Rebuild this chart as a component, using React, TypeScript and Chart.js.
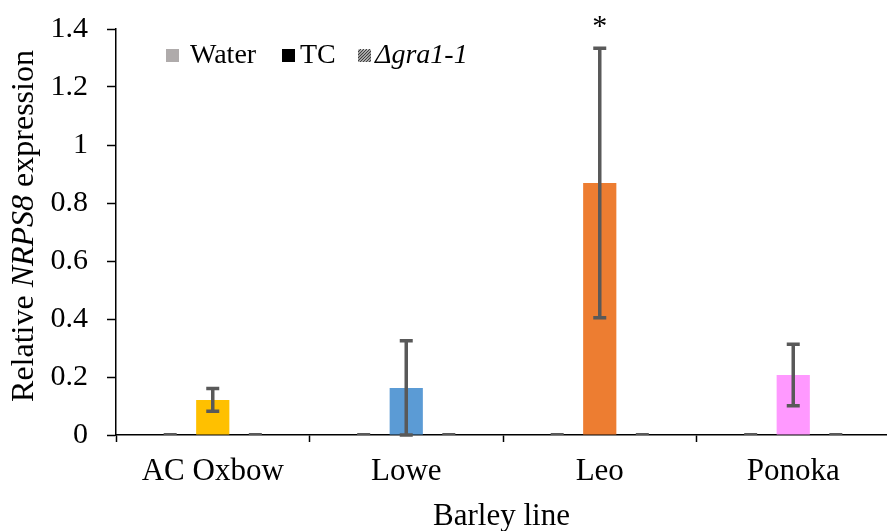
import React, { useEffect, useRef } from "react";
import { Chart, registerables } from "chart.js";

Chart.register(...registerables);

const categories = ["AC Oxbow", "Lowe", "Leo", "Ponoka"];
const seriesNames = ["Water", "TC", "Δgra1-1"];
const waterValues = [0, 0, 0, 0];
const tcValues = [0.121, 0.162, 0.869, 0.207];
const gra1Values = [0, 0, 0, 0];
const waterErrors = [0, 0, 0, 0];
const tcErrors = [0.039, 0.163, 0.465, 0.106];
const gra1Errors = [0, 0, 0, 0];
const tcColors = ["#FFC000", "#5B9BD5", "#ED7D31", "#FF99FF"];
const significance = ["", "", "*", ""];
const yMin = 0;
const yMax = 1.4;
const yStep = 0.2;

const FONT = "'Liberation Serif', 'Times New Roman', serif";

const errorsBySeries = [waterErrors, tcErrors, gra1Errors];

const overlayPlugin = {
  id: "overlay",
  afterDatasetsDraw(chart: any) {
    const ctx = chart.ctx;
    const y = chart.scales.y;
    ctx.save();
    ctx.strokeStyle = "#595959";
    chart.data.datasets.forEach((ds: any, d: number) => {
      const meta = chart.getDatasetMeta(d);
      const errs = errorsBySeries[d];
      meta.data.forEach((el: any, i: number) => {
        const v = ds.data[i];
        const e = errs[i];
        const x = el.x;
        const cap = 6.5;
        if (e > 0) {
          ctx.lineWidth = 3.5;
          const yt = y.getPixelForValue(v + e);
          const yb = y.getPixelForValue(Math.max(v - e, 0));
          ctx.beginPath();
          ctx.moveTo(x, yt);
          ctx.lineTo(x, yb);
          ctx.moveTo(x - cap, yt);
          ctx.lineTo(x + cap, yt);
          ctx.moveTo(x - cap, yb);
          ctx.lineTo(x + cap, yb);
          ctx.stroke();
        } else {
          ctx.lineWidth = 2;
          const yv = y.getPixelForValue(v) - 1;
          ctx.beginPath();
          ctx.moveTo(x - cap, yv);
          ctx.lineTo(x + cap, yv);
          ctx.stroke();
        }
      });
    });
    ctx.restore();
  },
  afterDraw(chart: any) {
    const ctx = chart.ctx;
    const area = chart.chartArea;
    ctx.save();
    ctx.fillStyle = "#000";

    // significance marks
    const tcMeta = chart.getDatasetMeta(1);
    ctx.font = `30px ${FONT}`;
    ctx.textAlign = "center";
    ctx.textBaseline = "alphabetic";
    significance.forEach((s, i) => {
      if (!s) return;
      const el = tcMeta.data[i];
      const m = ctx.measureText(s);
      const h = m.actualBoundingBoxAscent + m.actualBoundingBoxDescent;
      const base = 21.5 + h / 2 - m.actualBoundingBoxDescent;
      ctx.fillText(s, el.x, base);
    });

    // x title
    ctx.font = `31px ${FONT}`;
    ctx.textAlign = "center";
    ctx.fillText("Barley line", (area.left + 887) / 2, 525);

    // y title with italic gene name
    const parts = [
      { t: "Relative ", f: `32px ${FONT}` },
      { t: "NRPS8", f: `italic 32px ${FONT}` },
      { t: " expression", f: `32px ${FONT}` },
    ];
    let total = 0;
    parts.forEach((p) => {
      ctx.font = p.f;
      total += ctx.measureText(p.t).width;
    });
    ctx.translate(25, 226);
    ctx.rotate(-Math.PI / 2);
    ctx.textAlign = "left";
    ctx.textBaseline = "middle";
    let cx = -total / 2;
    parts.forEach((p) => {
      ctx.font = p.f;
      ctx.fillText(p.t, cx, 0);
      cx += ctx.measureText(p.t).width;
    });
    ctx.setTransform(1, 0, 0, 1, 0, 0);

    // legend
    const sq = 14;
    const sqTop = 49;
    const items = [
      { x: 166, tx: 190, name: seriesNames[0], kind: "fill", color: "#AFABAB", italic: false },
      { x: 282, tx: 300, name: seriesNames[1], kind: "fill", color: "#000000", italic: false },
      { x: 358, tx: 375, name: seriesNames[2], kind: "hatch", color: "#404040", italic: true },
    ];
    items.forEach((it) => {
      if (it.kind === "fill") {
        ctx.fillStyle = it.color;
        ctx.fillRect(it.x, sqTop, sq - 1, sq - 1);
      } else {
        ctx.save();
        ctx.beginPath();
        ctx.rect(it.x, sqTop, sq - 1, sq - 1);
        ctx.clip();
        ctx.strokeStyle = it.color;
        ctx.lineWidth = 1.3;
        for (let k = -sq; k < sq * 2; k += 3) {
          ctx.beginPath();
          ctx.moveTo(it.x + k, sqTop + sq);
          ctx.lineTo(it.x + k + sq, sqTop);
          ctx.stroke();
        }
        ctx.restore();
      }
      ctx.fillStyle = "#000";
      ctx.font = `${it.italic ? "italic " : ""}28px ${FONT}`;
      ctx.textAlign = "left";
      ctx.textBaseline = "alphabetic";
      ctx.fillText(it.name, it.tx, 63);
    });
    ctx.restore();
  },
};

export default function App() {
  const ref = useRef<HTMLCanvasElement | null>(null);
  useEffect(() => {
    if (!ref.current) return;
    const chart = new Chart(ref.current, {
      type: "bar",
      data: {
        labels: categories,
        datasets: [
          { label: seriesNames[0], data: waterValues, backgroundColor: "#AFABAB" },
          { label: seriesNames[1], data: tcValues, backgroundColor: tcColors },
          { label: seriesNames[2], data: gra1Values, backgroundColor: "#404040" },
        ],
      },
      options: {
        responsive: false,
        animation: false,
        devicePixelRatio: 1,
        layout: { padding: { top: 29, left: 0, right: 0, bottom: 0 } },
        datasets: { bar: { barPercentage: 0.78, categoryPercentage: 0.66 } },
        plugins: { legend: { display: false }, tooltip: { enabled: false }, title: { display: false } },
        scales: {
          x: {
            afterFit: (s: any) => {
              s.height = 96;
              s.paddingLeft = 0;
              s.paddingRight = 0;
            },
            grid: {
              offset: true,
              drawOnChartArea: false,
              drawTicks: true,
              tickLength: 7,
              tickColor: "#000",
              tickWidth: 1.5,
            },
            border: { display: true, color: "#000", width: 1.5 },
            ticks: {
              color: "#000",
              font: { family: FONT, size: 31 },
              padding: 11,
              maxRotation: 0,
              autoSkip: false,
            },
          },
          y: {
            min: yMin,
            max: yMax,
            afterFit: (s: any) => {
              s.width = 116;
              s.paddingTop = 0;
              s.paddingBottom = 0;
            },
            grid: {
              drawOnChartArea: false,
              drawTicks: true,
              tickLength: 9,
              tickColor: "#000",
              tickWidth: 1.5,
            },
            border: { display: true, color: "#000", width: 1.5 },
            ticks: {
              stepSize: yStep,
              color: "#000",
              font: { family: FONT, size: 30 },
              padding: 19,
              callback: (v: any) => String(Math.round(Number(v) * 10) / 10),
            },
          },
        },
      },
      plugins: [overlayPlugin],
    } as any);
    return () => chart.destroy();
  }, []);
  return (
    <div style={{ position: "absolute", left: 0, top: 0, width: 887, height: 531, overflow: "hidden", background: "#fff" }}>
      <canvas ref={ref} width={890} height={531} style={{ display: "block" }} />
    </div>
  );
}
